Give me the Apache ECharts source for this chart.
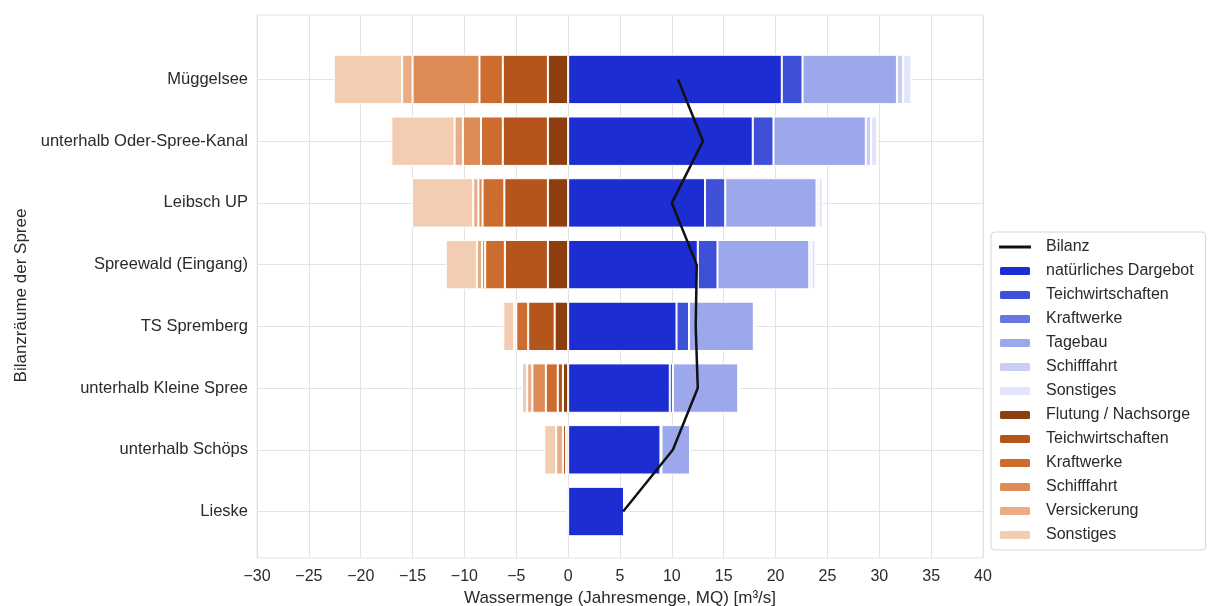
<!DOCTYPE html>
<html>
<head>
<meta charset="utf-8">
<style>
  html, body { margin: 0; padding: 0; background: #ffffff; }
  #chart { width: 1210px; height: 606px; }
</style>
<script src="https://cdn.jsdelivr.net/npm/echarts@6/dist/echarts.min.js"></script>
</head>
<body>
<div id="chart"></div>
<script>
// Bilanzräume der Spree, von oben (Mündungsnähe) nach unten (Quellnähe)
const categories = [
  'Müggelsee',
  'unterhalb Oder-Spree-Kanal',
  'Leibsch UP',
  'Spreewald (Eingang)',
  'TS Spremberg',
  'unterhalb Kleine Spree',
  'unterhalb Schöps',
  'Lieske'
];

// Zuflüsse / Dargebot [m³/s]
const natuerlichesDargebot = [20.6, 17.8, 13.2, 12.5, 10.45, 9.8, 8.9, 5.4];
const teichZufluss         = [2.0, 2.0, 1.95, 1.9, 1.2, 0.3, 0.1, 0];
const kraftwerkZufluss     = [0, 0, 0, 0, 0, 0, 0, 0];
const tagebauZufluss       = [9.1, 8.9, 8.8, 8.85, 6.25, 6.3, 2.75, 0];
const schifffahrtZufluss   = [0.6, 0.5, 0.2, 0.2, 0.1, 0.1, 0, 0];
const sonstigesZufluss     = [0.8, 0.6, 0.4, 0.4, 0.2, 0.1, 0.1, 0.05];

// Entnahmen / Verluste [m³/s]
const flutungNachsorge     = [-1.95, -1.95, -1.95, -1.95, -1.3, -0.5, -0.2, 0];
const teichEntnahme        = [-4.35, -4.35, -4.2, -4.15, -2.55, -0.5, -0.3, -0.15];
const kraftwerkEntnahme    = [-2.25, -2.1, -2.1, -1.9, -1.15, -1.15, 0, 0];
const schifffahrtEntnahme  = [-6.45, -1.75, -0.4, -0.3, 0, -1.3, 0, 0];
const versickerung         = [-1.0, -0.8, -0.5, -0.5, -0.2, -0.5, -0.65, 0];
const sonstigesEntnahme    = [-6.6, -6.1, -5.9, -3.0, -1.05, -0.5, -1.15, 0];

// Bilanz je Bilanzraum [m³/s]
const bilanz = [10.6, 13.0, 10.0, 12.4, 12.3, 12.5, 10.1, 5.3];

// x-Achse
const xTicks = [-30, -25, -20, -15, -10, -5, 0, 5, 10, 15, 20, 25, 30, 35, 40];

const blues   = ['#1c2dd2', '#3e4fd8', '#6676e0', '#9da7ec', '#c9cef4', '#e2e5f9'];
const oranges = ['#8e3e0e', '#b5551b', '#cc6c2e', '#dd8b57', '#e9ac85', '#f2cdb2'];

const FONT = "'Liberation Sans', Arial, sans-serif";
const TEXT = '#2a2a2a';
const GRIDLINE = '#e3e3e3';

// Legend names must be unique per series; the orange group carries a trailing space.
const posSeries = [
  ['natürliches Dargebot', natuerlichesDargebot],
  ['Teichwirtschaften', teichZufluss],
  ['Kraftwerke', kraftwerkZufluss],
  ['Tagebau', tagebauZufluss],
  ['Schifffahrt', schifffahrtZufluss],
  ['Sonstiges', sonstigesZufluss]
];
const negSeries = [
  ['Flutung / Nachsorge', flutungNachsorge],
  ['Teichwirtschaften ', teichEntnahme],
  ['Kraftwerke ', kraftwerkEntnahme],
  ['Schifffahrt ', schifffahrtEntnahme],
  ['Versickerung', versickerung],
  ['Sonstiges ', sonstigesEntnahme]
];

function barSeries(list, colors) {
  return list.map(([name, values], i) => ({
    name: name,
    type: 'bar',
    stack: 'wasser',
    xAxisIndex: 0,
    yAxisIndex: 0,
    barWidth: '80%',
    data: values,
    itemStyle: { color: colors[i], borderColor: '#ffffff', borderWidth: 1 },
    emphasis: { disabled: true }
  }));
}

const minus = v => (v < 0 ? '\u2212' + Math.abs(v) : String(v));

const chart = echarts.init(document.getElementById('chart'), null, { renderer: 'canvas' });

chart.setOption({
  animation: false,
  backgroundColor: '#ffffff',
  textStyle: { fontFamily: FONT },
  grid: [
    // band grid holding the bars
    { left: 257, right: 227, top: 48.6, bottom: 63.6, show: false,
      containLabel: false, outerBoundsMode: 'none' },
    // outer frame with vertical gridlines and tick labels
    { left: 257, right: 227, top: 15, bottom: 48, show: true,
      containLabel: false, outerBoundsMode: 'none',
      borderColor: GRIDLINE, borderWidth: 1, backgroundColor: 'transparent' }
  ],
  xAxis: [
    { gridIndex: 0, type: 'value', min: xTicks[0], max: xTicks[xTicks.length - 1],
      interval: 5, show: false },
    { gridIndex: 1, type: 'value', min: xTicks[0], max: xTicks[xTicks.length - 1],
      interval: 5,
      axisLine: { show: false }, axisTick: { show: false },
      splitLine: { show: true, lineStyle: { color: GRIDLINE, width: 1 } },
      axisLabel: { color: TEXT, fontSize: 16, fontFamily: FONT, margin: 11,
        formatter: v => (xTicks.includes(v) ? minus(v) : '') },
      name: 'Wassermenge (Jahresmenge, MQ) [m³/s]',
      nameLocation: 'middle', nameGap: 30,
      nameTextStyle: { color: TEXT, fontSize: 17, fontFamily: FONT } }
  ],
  yAxis: [
    { gridIndex: 0, type: 'category', data: categories, inverse: true,
      axisLine: { show: false }, axisTick: { show: false },
      splitLine: { show: true, alignWithLabel: true, lineStyle: { color: GRIDLINE, width: 1 } },
      axisLabel: { color: TEXT, fontSize: 16.5, fontFamily: FONT, margin: 9 },
      name: 'Bilanzräume der Spree', nameLocation: 'middle', nameGap: 222,
      nameTextStyle: { color: TEXT, fontSize: 17, fontFamily: FONT } },
    { gridIndex: 1, type: 'value', show: false }
  ],
  legend: {
    orient: 'vertical',
    left: 991, top: 232,
    padding: [6, 12, 6, 7],
    itemGap: 6, itemWidth: 32, itemHeight: 10,
    borderColor: '#d6d6d6', borderWidth: 1, borderRadius: 4,
    backgroundColor: 'rgba(255,255,255,0.85)',
    selectedMode: false,
    textStyle: { color: TEXT, fontSize: 16, lineHeight: 18, fontFamily: FONT, padding: [0, 0, 0, 10] },
    formatter: n => n.trim(),
    data: [{ name: 'Bilanz', icon: 'path://M0,0H32V3H0Z', itemStyle: { color: '#111111' } }]
      .concat(posSeries.map(s => s[0]), negSeries.map(s => s[0]))
  },
  series: [
    ...barSeries(posSeries, blues),
    ...barSeries(negSeries, oranges),
    {
      name: 'Bilanz',
      type: 'line',
      xAxisIndex: 0,
      yAxisIndex: 0,
      data: bilanz,
      symbol: 'none',
      z: 10,
      lineStyle: { color: '#111111', width: 2.5 },
      itemStyle: { color: '#111111' },
      emphasis: { disabled: true }
    }
  ]
});
</script>
</body>
</html>
